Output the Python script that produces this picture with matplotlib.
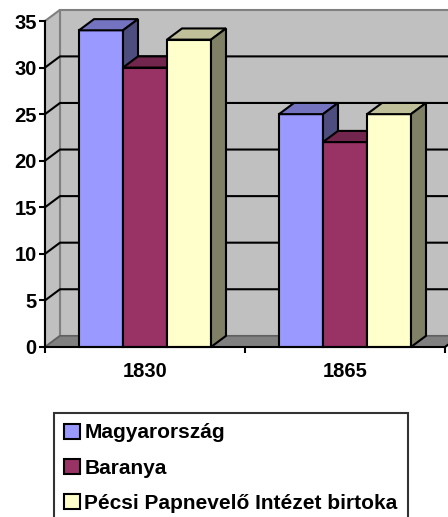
import numpy as np
import matplotlib.pyplot as plt
from matplotlib.patches import Polygon, Patch
from matplotlib.colors import to_rgb

plt.rcParams['font.family'] = ['Liberation Sans', 'DejaVu Sans']
plt.rcParams['font.weight'] = 'bold'

years = ['1830', '1865']
series = ['Magyarország', 'Baranya', 'Pécsi Papnevelő Intézet birtoka']
magyarorszag = [34, 25]
baranya = [30, 22]
pecsi = [33, 25]
values = [magyarorszag, baranya, pecsi]
colors = ['#9999FF', '#993366', '#FFFFCC']


def shade(c, f):
    return tuple(v * f for v in to_rgb(c))


fig = plt.figure(figsize=(4.48, 5.17), dpi=100)
ax = fig.add_axes([45 / 448, 170 / 517, 400 / 448, 326 / 517])
ax.set_xlim(-0.5, 1.5)
ax.set_ylim(0, 35)
ax.patch.set_visible(False)

# depth of the fake 3d box, in data units
dx, dy = 0.075, 1.2
x0, x1, ymax = -0.5, 1.5, 35

wall = '#C0C0C0'
edge = '#808080'
ax.add_patch(Polygon([(x0 + dx, dy), (x1 + dx, dy), (x1 + dx, ymax + dy), (x0 + dx, ymax + dy)],
                     fc=wall, ec=edge, lw=1.5, clip_on=False, zorder=0))
ax.add_patch(Polygon([(x0, 0), (x0 + dx, dy), (x0 + dx, ymax + dy), (x0, ymax)],
                     fc=wall, ec=edge, lw=1.5, clip_on=False, zorder=0))
ax.add_patch(Polygon([(x0, 0), (x1, 0), (x1 + dx, dy), (x0 + dx, dy)],
                     fc='#808080', ec='#606060', lw=1.2, clip_on=False, zorder=0.5))
ax.plot([x1, x1 + dx], [0, dy], color='black', lw=1.5, clip_on=False, zorder=0.6)

for v in range(5, 35, 5):
    ax.plot([x0, x0 + dx, x1 + dx + 0.2], [v, v + dy, v + dy], color='black', lw=1.5,
            clip_on=False, zorder=1)

w = 0.22
x = np.arange(len(years))
for j, (vals, c) in enumerate(zip(values, colors)):
    left = x + (j - 1.5) * w
    ax.bar(left, vals, width=w, align='edge', color=c, edgecolor='black', lw=1.5,
           zorder=2 + j, clip_on=False)
    for l, v in zip(left, vals):
        ax.add_patch(Polygon([(l, v), (l + w, v), (l + w + dx, v + dy), (l + dx, v + dy)],
                             fc=shade(c, 0.75), ec='black', lw=1.5, clip_on=False, zorder=2 + j))
        ax.add_patch(Polygon([(l + w, 0), (l + w + dx, dy), (l + w + dx, v + dy), (l + w, v)],
                             fc=shade(c, 0.5), ec='black', lw=1.5, clip_on=False, zorder=2 + j))

for s in ['top', 'right']:
    ax.spines[s].set_visible(False)
ax.spines['left'].set_linewidth(1.5)
ax.spines['bottom'].set_linewidth(1.5)
ax.spines['left'].set_zorder(10)
ax.spines['bottom'].set_zorder(10)

ax.set_yticks(range(0, 36, 5))
ax.tick_params(axis='y', direction='out', length=4, width=1.5, labelsize=14.5, pad=2)
ax.set_xticks([-0.5, 0.5, 1.5])
ax.set_xticklabels([])
ax.set_xticks(x, minor=True)
ax.set_xticklabels(years, minor=True)
ax.tick_params(axis='x', which='major', direction='out', length=4, width=1.5)
ax.tick_params(axis='x', which='minor', length=0, labelsize=14.5, pad=11)

handles = [Patch(fc=c, ec='black', lw=1.5) for c in colors]
leg = fig.legend(handles, series, loc='upper left', bbox_to_anchor=(54 / 448, 1 - 413 / 517),
                 fontsize=15, frameon=True, fancybox=False, edgecolor='black',
                 borderaxespad=0, borderpad=0.5, handlelength=0.75, handleheight=0.75,
                 handletextpad=0.2, labelspacing=0.78)
leg.get_frame().set_linewidth(1.5)

fig.savefig('out.png', dpi=100)
